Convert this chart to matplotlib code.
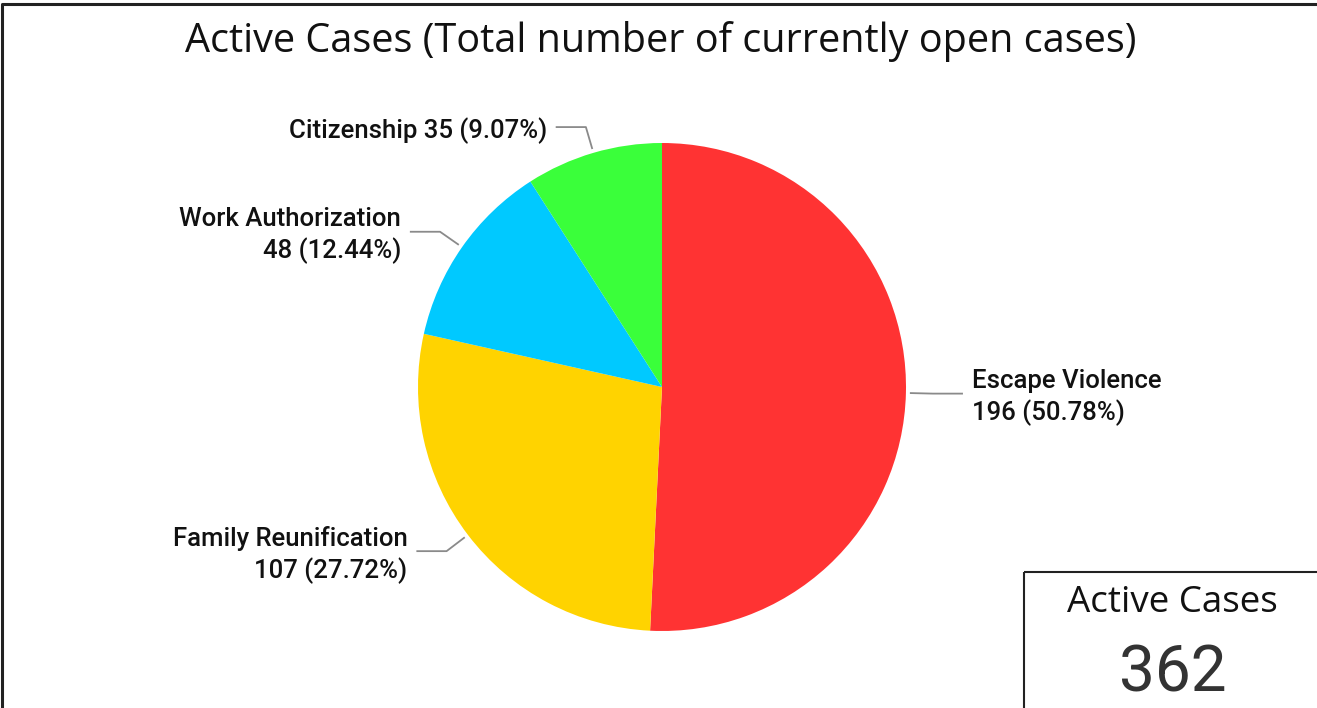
import numpy as np
import matplotlib.pyplot as plt
from matplotlib.patches import Rectangle

categories = ['Escape Violence', 'Family Reunification', 'Work Authorization', 'Citizenship']
counts = [196, 107, 48, 35]
colors = ['#FF3333', '#FFD300', '#00C9FF', '#3AFF3A']
active_total = 362

W, H = 1317, 708
fig = plt.figure(figsize=(W / 100, H / 100), dpi=100)

# pie axes: whole figure, data units = pie radius
cx, cy, r = 662, 387, 244
ax = fig.add_axes([0, 0, 1, 1])
wedges, _ = ax.pie(counts, colors=colors, startangle=90, counterclock=False, radius=1)
ax.set_xlim(-cx / r, (W - cx) / r)
ax.set_ylim(-(H - cy) / r, cy / r)
ax.axis('off')

total = sum(counts)
label_font = dict(family='Roboto', fontsize=18.5, fontweight='medium', color='#111111')
for w, name, n in zip(wedges, categories, counts):
    theta = np.deg2rad((w.theta1 + w.theta2) / 2)
    c, s = np.cos(theta), np.sin(theta)
    p0 = (1.02 * c, 1.02 * s)
    p1 = (1.11 * c, 1.11 * s)
    side = 1 if c >= 0 else -1
    p2 = (p1[0] + side * 0.12, p1[1])
    ax.plot([p0[0], p1[0], p2[0]], [p0[1], p1[1], p2[1]], color='#8a8a8a', lw=1.3)
    pct = n / total * 100
    if name == 'Citizenship':
        txt = f'{name} {n} ({pct:.2f}%)'
    else:
        txt = f'{name}\n{n} ({pct:.2f}%)'
    ax.text(p2[0] + side * 0.04, p2[1] - 0.015, txt, ha='left' if side > 0 else 'right',
            va='center', linespacing=1.32, **label_font)

# overlay in pixel coordinates for frame, title and card
ov = fig.add_axes([0, 0, 1, 1], facecolor='none')
ov.set_xlim(0, W)
ov.set_ylim(H, 0)
ov.axis('off')
ov.plot([1.5, 1.5, W], [H, 3.5, 3.5], color='#222222', lw=2.2, solid_capstyle='butt')
ov.text(661, 42, 'Active Cases (Total number of currently open cases)', ha='center', va='center',
        family='Open Sans', fontsize=28.5, color='#111111')
ov.add_patch(Rectangle((1023.5, 571.5), 320, 160, fill=False, edgecolor='#222222', lw=1.5,
                       clip_on=False))
ov.text(1172, 603, 'Active Cases', ha='center', va='center', family='Open Sans',
        fontsize=26.5, color='#111111')
ov.text(1173, 674, str(active_total), ha='center', va='center', family='Roboto',
        fontsize=46, color='#333333')

fig.savefig('out.png', dpi=100)
